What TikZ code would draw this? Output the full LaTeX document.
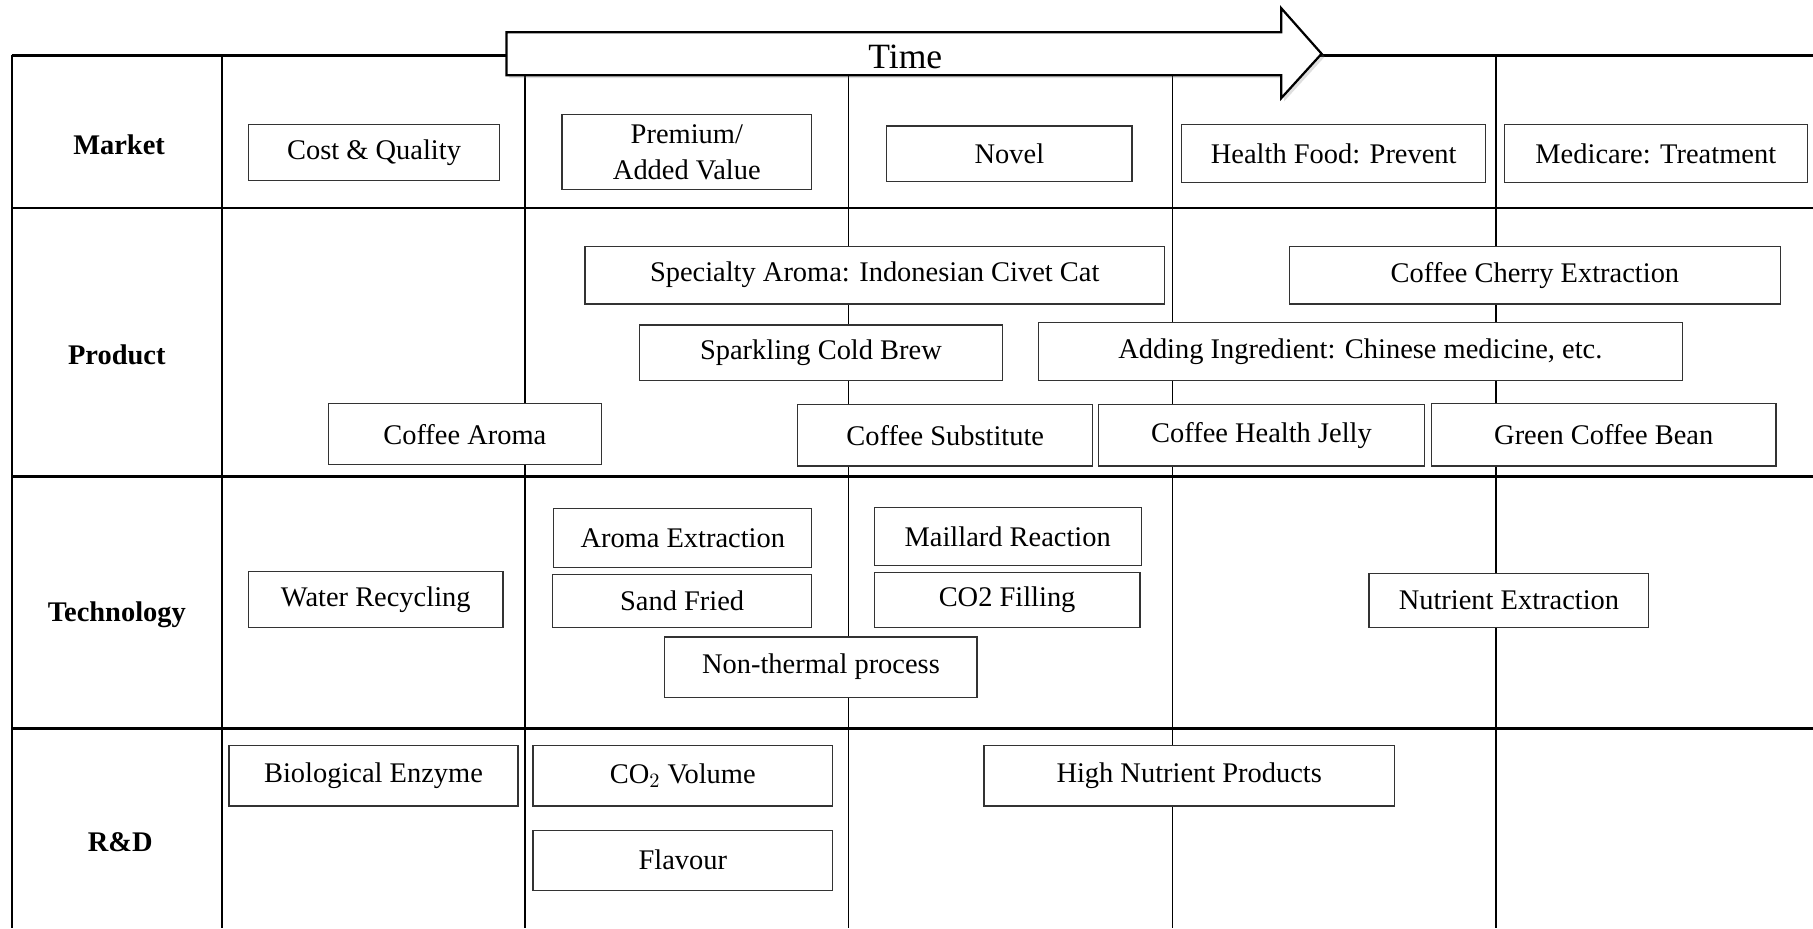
\documentclass[tikz,border=0pt]{standalone}
\usepackage{fontspec}
\setmainfont{Liberation Serif}
\usetikzlibrary{shadows}
\newcommand{\tbox}[6]{%
  \node[box, minimum width={(#4-#2)*0.02cm}, minimum height={(#5-#3)*0.02cm}]
    (#1) at ({(#2+#4)/2},{(#3+#5)/2}) {#6};}
\begin{document}
\begin{tikzpicture}[x=0.02cm,y=-0.02cm,
  box/.style={draw=black!80, line width=0.6pt, fill=white, inner sep=0pt,
    font=\fontsize{14}{17.6}\selectfont, align=center},
  rowlabel/.style={font=\fontsize{14}{16}\selectfont\bfseries},
  rowline/.style={line width=1.2pt, black},
  colline/.style={line width=0.7pt, black},
  edgeline/.style={line width=1pt, black},
  timearrow/.style={draw=black, line width=1.1pt, fill=white,
    drop shadow={opacity=0.25, shadow xshift=1.5pt, shadow yshift=-1.5pt}},
  timelabel/.style={font=\fontsize{17.5}{20}\selectfont}
]
\useasboundingbox (0,0) rectangle (1568,803);

% grid
\draw[rowline] (10,48) -- (1568,48);
\draw[rowline] (10,180) -- (1568,180);
\draw[rowline] (10,412) -- (1568,412);
\draw[rowline] (10,630) -- (1568,630);
\draw[edgeline] (10,48) -- (10,803);
\draw[edgeline] (192,48) -- (192,803);
\foreach \cx in {454,734,1014,1294} \draw[colline] (\cx,48) -- (\cx,803);

% time arrow
\path[timearrow] (438,28) -- (1108,28) -- (1108,7) -- (1143,46.5) -- (1108,85) -- (1108,65) -- (438,65) -- cycle;
\node[timelabel] (time) at (783,49) {Time};

% row labels
\node[rowlabel] (lmarket) at (103,125) {Market};
\node[rowlabel] (lproduct) at (101,307) {Product};
\node[rowlabel] (ltech) at (101,532) {Technology};
\node[rowlabel] (lrd) at (104,728) {R\&D};

% market
\tbox{cq}{215}{108}{432}{156}{Cost \& Quality}
\tbox{pav}{486}{99}{702}{164}{Premium/\\Added Value}
\tbox{novel}{767}{109}{979}{157}{Novel}
\tbox{hf}{1022}{108}{1285}{158}{Health Food: Prevent}
\tbox{med}{1301}{108}{1563}{158}{Medicare: Treatment}

% product
\tbox{sac}{506}{213}{1007}{263}{Specialty Aroma: Indonesian Civet Cat}
\tbox{cce}{1115}{213}{1540}{263}{Coffee Cherry Extraction}
\tbox{scb}{553}{281}{867}{329}{Sparkling Cold Brew}
\tbox{ai}{898}{279}{1455}{329}{Adding Ingredient: Chinese medicine, etc.}
\tbox{ca}{284}{349}{520}{402}{Coffee Aroma}
\tbox{cs}{690}{350}{945}{403}{Coffee Substitute}
\tbox{chj}{950}{350}{1232}{403}{Coffee Health Jelly}
\tbox{gcb}{1238}{349}{1536}{403}{Green Coffee Bean}

% technology
\tbox{ae}{479}{440}{702}{491}{Aroma Extraction}
\tbox{mr}{756}{439}{987}{489}{Maillard Reaction}
\tbox{wr}{215}{494}{435}{543}{Water Recycling}
\tbox{sf}{478}{497}{702}{543}{Sand Fried}
\tbox{cof}{756}{495}{986}{543}{CO2 Filling}
\tbox{ne}{1184}{496}{1426}{543}{Nutrient Extraction}
\tbox{ntp}{575}{551}{845}{603}{Non-thermal process}

% R&D
\tbox{be}{198}{645}{448}{697}{Biological Enzyme}
\tbox{cov}{461}{645}{720}{697}{CO$_2$ Volume}
\tbox{hnp}{851}{645}{1206}{697}{High Nutrient Products}
\tbox{fl}{461}{718}{720}{770}{Flavour}
\end{tikzpicture}
\end{document}
